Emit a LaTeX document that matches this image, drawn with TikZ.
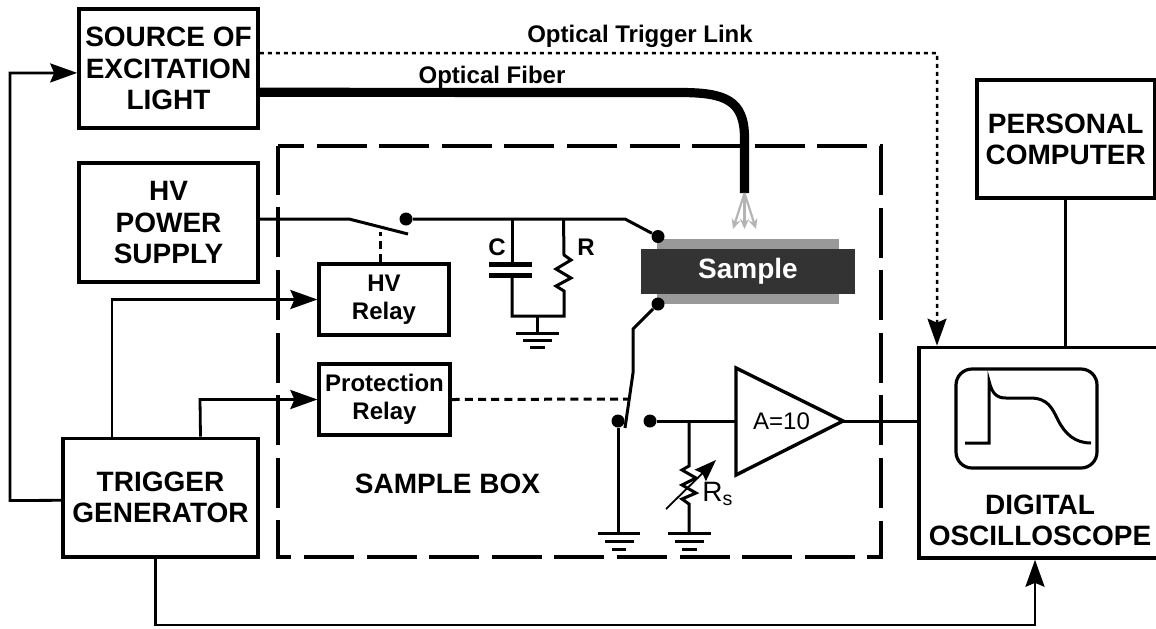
\documentclass[tikz,border=0pt]{standalone}
\usepackage{fontspec}
\setmainfont{Liberation Sans}
\usepackage{tikz}
\usetikzlibrary{arrows.meta}
\definecolor{samplegray}{HTML}{999999}
\definecolor{sampledark}{HTML}{333333}
\definecolor{raygray}{HTML}{B4B4B4}
\tikzstyle{wire} = [draw, line width=1.5pt]
\tikzstyle{line} = [draw, line width=1.4pt, -{Stealth[length=13.5pt,width=9.5pt,inset=2pt]}]
\tikzstyle{optlink} = [draw, line width=1.25pt, dash pattern=on 2pt off 2pt, -{Stealth[length=13.5pt,width=9.5pt,inset=2pt]}]
\tikzstyle{ctrl} = [draw, line width=1.5pt, dash pattern=on 4pt off 2.6pt]
\tikzstyle{block} = [draw, line width=1.8pt, align=center, inner sep=0pt, font=\bfseries\fontsize{14}{15.6}\selectfont]
\tikzstyle{relay} = [draw, line width=1.6pt, align=center, inner sep=0pt, minimum width=65pt, minimum height=35.5pt, font=\bfseries\fontsize{12}{14}\selectfont]
\tikzstyle{contact} = [circle, fill=black, inner sep=0pt, minimum size=6.5pt]
\tikzstyle{biglabel} = [inner sep=0pt, align=center, font=\bfseries\fontsize{14}{15.6}\selectfont]
\tikzstyle{smalllabel} = [inner sep=0pt, font=\bfseries\fontsize{12}{14}\selectfont]
\tikzstyle{ray} = [draw=raygray, line width=1.1pt, -{Stealth[length=5pt,width=4.5pt]}]
\begin{document}
\begin{tikzpicture}[x=0.5pt,y=-0.5pt]
  \path[use as bounding box,clip] (0,0) rectangle (1156,628);
  % blocks
  \node[block,minimum width=89.5pt,minimum height=59.5pt] (source) at (168.5,68.5) {SOURCE OF\\EXCITATION\\LIGHT};
  \node[block,minimum width=89.5pt,minimum height=59.5pt] (hvsupply) at (168.5,222.5) {HV\\POWER\\SUPPLY};
  \node[block,minimum width=97.5pt,minimum height=59.25pt] (trigger) at (160.5,497.7) {TRIGGER\\GENERATOR};
  \node[block,minimum width=88.75pt,minimum height=59.25pt] (computer) at (1065.7,139) {PERSONAL\\COMPUTER};
  \node[block,minimum width=141pt,minimum height=105.25pt] (scope) at (1060,452.7) {};
  \node[biglabel] (scopelabel) at (1040,520.5) {DIGITAL\\OSCILLOSCOPE};
  \node[relay] (hvrelay) at (384,299.5) {HV\\Relay};
  \node[relay,minimum width=65.5pt] (protrelay) at (384.5,399.5) {Protection\\Relay};

  % sample box
  \node[biglabel] (boxlabel) at (447.5,484) {SAMPLE BOX};
  \draw[line width=1.7pt,dash pattern=on 25pt off 6.3pt,dash phase=12pt] (278,146) -- (881,146) -- (881,557) -- (278,557) -- (278,146);

  % sample
  \node[fill=samplegray,minimum width=91pt,minimum height=32.5pt,inner sep=0pt] (electrode) at (748,271.5) {};
  \node[fill=sampledark,text=white,minimum width=107pt,minimum height=22.5pt,inner sep=0pt,font=\bfseries\fontsize{14}{16}\selectfont] (sample) at (748,271.5) {Sample};

  % fiber and rays
  \coordinate (fiberend) at (744.5,193);
  \coordinate (raya) at (733,229);
  \coordinate (rayb) at (744.5,229);
  \coordinate (rayc) at (756,229);
  \draw[line width=4.6pt] ([yshift=-11.9pt]source.east) -- (680,92.5) .. controls (725,92.5) and (744.5,100) .. (744.5,138) -- (fiberend);
  \path[ray] (fiberend) -- (raya);
  \path[ray] (fiberend) -- (rayb);
  \path[ray] (fiberend) -- (rayc);
  \node[smalllabel] (fiberlabel) at (492,77) {Optical Fiber};
  \node[smalllabel] (triglabel) at (640,36) {Optical Trigger Link};

  % high voltage side
  \node[contact] (relaydot) at (406,219) {};
  \node[contact] (topdot) at (658,236.5) {};
  \coordinate (bladefix) at (349,219);
  \coordinate (bladeend) at (408,234);
  \coordinate (bend) at (625,219);
  \coordinate (ctop) at (512,219);
  \coordinate (rtop) at (563.5,219);
  \coordinate (cplatea) at (512,264);
  \coordinate (cplateb) at (512,275);
  \coordinate (rcleft) at (512,316);
  \coordinate (rcright) at (564,316);
  \coordinate (gndrc) at (537.5,333);
  \draw[wire] ([yshift=1.75pt]hvsupply.east) -- (bladefix) -- (bladeend);
  \draw[wire] (relaydot) -- (bend) -- (topdot);
  \path[ctrl] ([xshift=-2pt]hvrelay.north) -- (380,232);
  \draw[wire] (ctop) -- (cplatea);
  \draw[line width=2.5pt] (489,264) -- (532,264);
  \draw[line width=2.5pt] (489,275) -- (532,275);
  \draw[wire] (cplateb) -- (rcleft) -- (rcright) -- ++(0,-25) -- ++(-8,-5) -- ++(15,-8) -- ++(-15,-9) -- ++(15,-9) -- ++(-7,-5) -- (rtop);
  \draw[wire] (gndrc |- rcleft) -- (gndrc);
  \draw[wire] (516,333) -- (559,333);
  \draw[wire] (523,340.5) -- (552,340.5);
  \draw[wire] (530,347) -- (545,347);
  \node[smalllabel] (clabel) at (497,247) {C};
  \node[smalllabel] (rlabel) at (586,247) {R};

  % low voltage side
  \node[contact] (botdot) at (658,304) {};
  \node[contact] (gnddot) at (618,421) {};
  \node[contact] (ampdot) at (650,421) {};
  \coordinate (gndsw) at (618,533);
  \coordinate (gndrs) at (689,533);
  \coordinate (rsnode) at (689,421);
  \draw[wire] (botdot) -- (633,329) -- (633,373) -- (625,428);
  \path[ctrl] (protrelay.east) -- (630,399);
  \draw[wire] (gnddot) -- (gndsw);
  \draw[wire] (598,533) -- (640,533);
  \draw[wire] (605,541) -- (634,541);
  \draw[wire] (612,549) -- (626,549);
  \draw[wire] (rsnode) -- (689,466) -- ++(-7,4) -- ++(14,8) -- ++(-14,7) -- ++(14,8) -- ++(-14,6) -- ++(7,5) -- (gndrs);
  \draw[wire] (668,533) -- (711,533);
  \draw[wire] (675,541) -- (704,541);
  \draw[wire] (682,549) -- (697,549);
  \draw[line width=0.9pt,-{Stealth[length=11pt,width=8pt,inset=1.5pt]}] (666,509) -- (716,460);
  \node[inner sep=0pt,font=\fontsize{14}{16}\selectfont] (rslabel) at (718,494) {R\textsubscript{s}};

  % amplifier
  \coordinate (amptop) at (736,368);
  \coordinate (ampbot) at (736,475);
  \coordinate (ampin) at (736,421);
  \coordinate (ampout) at (843,421);
  \draw[line width=1.7pt] (amptop) -- (ampout) -- (ampbot) -- cycle;
  \node[inner sep=0pt,font=\fontsize{12}{14}\selectfont] (amplabel) at (781.5,421) {A=10};
  \draw[wire] (ampdot) -- (ampin);
  \draw[wire] (ampout) -- (ampout -| scope.west);

  % oscilloscope screen
  \node[draw,line width=1.6pt,rounded corners=8pt,minimum width=70.5pt,minimum height=49.5pt,inner sep=0pt] (screen) at (1026.5,418.5) {};
  \draw[line width=1.5pt] (965,443) -- (989,443) -- (989,381) .. controls (992,393) and (996,398) .. (1006,398) -- (1030,398) .. controls (1048,398) and (1052,408) .. (1058,420) .. controls (1065,434) and (1075,443) .. (1091,443);

  % links between blocks
  \path[line] ([yshift=-1.3pt]trigger.west) -- (10,500.5) -- (10,73) -- ([yshift=-2.2pt]source.west);
  \path[line] ([xshift=-24.25pt]trigger.north) -- (112,299.5) -- (hvrelay.west);
  \path[line] ([xshift=20pt]trigger.north) -- (200,399.5) -- (protrelay.west);
  \path[line] ([xshift=-2.5pt]trigger.south) -- (155.5,625) -- (1035,625) -- ([xshift=-12.5pt]scope.south);
  \path[optlink] ([yshift=7.7pt]source.east) -- (937,53) -- ([xshift=-61.5pt]scope.north);
  \draw[wire] (computer.south) -- (computer.south |- scope.north);
\end{tikzpicture}
\end{document}
